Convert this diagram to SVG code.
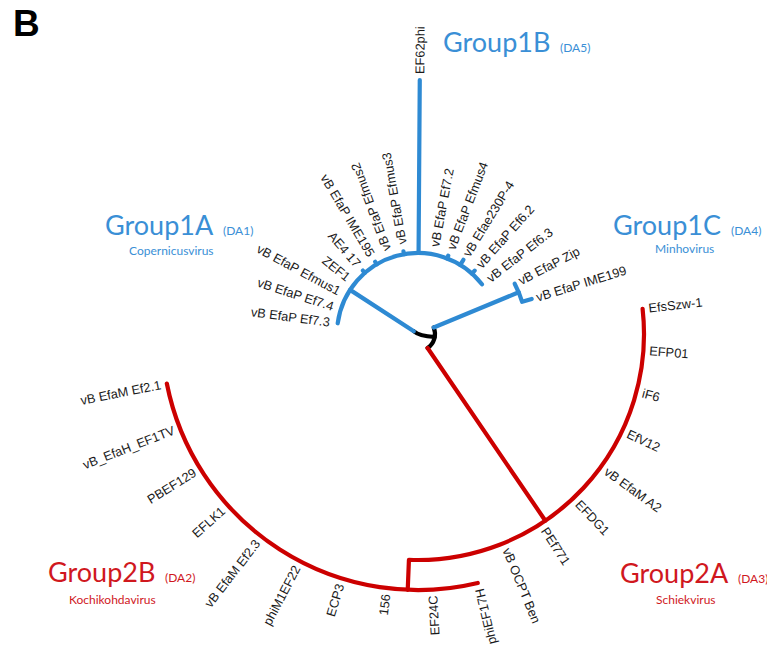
<svg xmlns="http://www.w3.org/2000/svg" width="767" height="649" viewBox="0 0 767 649">
  <style>
    .br { fill: none; stroke-width: 4.2; stroke-linecap: round; stroke-linejoin: round; }
    .blue { stroke: #2e8ad3; }
    .red { stroke: #cc0000; }
    .blk { stroke: #000000; }
    .leaf { font-family: "Liberation Sans", Arial, sans-serif; font-size: 12.8px; fill: #1a1a1a; }
    .flip { text-anchor: end; }
    .grp { font-family: Lato, "Open Sans", sans-serif; font-size: 27px; }
    .da { font-family: Lato, "Open Sans", sans-serif; font-size: 12px; }
    .genus { font-family: Lato, "Open Sans", sans-serif; font-size: 12px; }
    .cb { fill: #3a8fd6; }
    .cr { fill: #d0181e; }
  </style>
  <rect width="767" height="649" fill="#ffffff"/>

  <text x="13" y="36" font-family="'Liberation Sans', Arial, sans-serif" font-size="37" font-weight="bold" fill="#000">B</text>

  <!-- tree branches, circular layout centred at (418,334) -->
  <g id="connectors">
    <!-- root -->
    <path class="br blk" d="M413.8,331.3 Q419,336 434.7,337"/>
    <path class="br blk" d="M433.71,327.49 A17,17 0 0 1 427.58,348.04"/>
    <!-- Group1A / 1B -->
    <path class="br blue" d="M413.8,331.3 L350.07,289.88"/>
    <path class="br blue" d="M337.71,323.29 A81,81 0 0 1 481.97,284.32"/>
    <path class="br blue" d="M418.57,253 L419.77,80"/>
    <path class="br blue" d="M364.86,272.87 L362.89,270.6 M376.7,264.32 L375.17,261.74 M404,254.22 L403.48,251.26 M447.16,258.43 L448.24,255.63 M460.26,264.9 L463.39,259.78 M471.99,273.62 L474.66,270.63"/>
    <!-- Group1C -->
    <path class="br blue" d="M433.71,327.49 L518.7,292.29"/>
    <path class="br blue" d="M514.68,283.67 A109,109 0 0 1 522.15,301.86 L531.71,298.91"/>
    <!-- Group2 -->
    <path class="br red" d="M427.58,348.04 L545.36,520.7"/>
    <path class="br red" d="M642.59,308.81 A226,226 0 0 1 408.93,559.82 L407.73,589.79"/>
    <path class="br red" d="M477.76,582.93 A256,256 0 0 1 166.83,383.51"/>
  </g>

  <!-- Group1 leaves -->
  <g id="leaf-Ef7-3"><text class="leaf flip" dy="0.35em" transform="translate(418 334) rotate(187.6) translate(89 0) rotate(180)">vB EfaP Ef7.3</text></g>
  <g id="leaf-Ef7-4"><text class="leaf flip" dy="0.35em" transform="translate(418 334) rotate(197.95) translate(89 0) rotate(180)">vB EfaP Ef7.4</text></g>
  <g id="leaf-Efmus1"><text class="leaf flip" dy="0.35em" transform="translate(418 334) rotate(208.3) translate(89 0) rotate(180)">vB EfaP Efmus1</text></g>
  <g id="leaf-ZEF1"><text class="leaf flip" dy="0.35em" transform="translate(418 334) rotate(218.65) translate(89 0) rotate(180)">ZEF1</text></g>
  <g id="leaf-AE4-17"><text class="leaf flip" dy="0.35em" transform="translate(418 334) rotate(229) translate(91 0) rotate(180)">AE4 17</text></g>
  <g id="leaf-IME195"><text class="leaf flip" dy="0.35em" transform="translate(418 334) rotate(239.35) translate(91 0) rotate(180)">vB EfaP IME195</text></g>
  <g id="leaf-Efmus2"><text class="leaf" dy="0.35em" transform="translate(418 334) rotate(249.7) translate(89 0)">vB EfaP Efmus2</text></g>
  <g id="leaf-Efmus3"><text class="leaf" dy="0.35em" transform="translate(418 334) rotate(260.05) translate(91 0)">vB EfaP Efmus3</text></g>
  <g id="leaf-EF62phi"><text class="leaf" dy="0.35em" transform="translate(418 334) rotate(270.4) translate(260 0)">EF62phi</text></g>
  <g id="leaf-Ef7-2"><text class="leaf" dy="0.35em" transform="translate(418 334) rotate(280.75) translate(89 0)">vB EfaP Ef7.2</text></g>
  <g id="leaf-Efmus4"><text class="leaf" dy="0.35em" transform="translate(418 334) rotate(291.1) translate(91 0)">vB EfaP Efmus4</text></g>
  <g id="leaf-Efae230P-4"><text class="leaf" dy="0.35em" transform="translate(418 334) rotate(301.45) translate(92 0)">vB Efae230P-4</text></g>
  <g id="leaf-Ef6-2"><text class="leaf" dy="0.35em" transform="translate(418 334) rotate(311.8) translate(91 0)">vB EfaP Ef6.2</text></g>
  <g id="leaf-Ef6-3"><text class="leaf" dy="0.35em" transform="translate(418 334) rotate(322.15) translate(89 0)">vB EfaP Ef6.3</text></g>
  <g id="leaf-Zip"><text class="leaf" dy="0.35em" transform="translate(418 334) rotate(332.5) translate(114 0)">vB EfaP Zip</text></g>
  <g id="leaf-IME199"><text class="leaf" dy="0.35em" transform="translate(418 334) rotate(342.85) translate(124 0)">vB EfaP IME199</text></g>

  <!-- Group2A leaves -->
  <g id="leaf-EfsSzw-1"><text class="leaf" dy="0.35em" transform="translate(418 334) rotate(-6.4) translate(232 0)">EfsSzw-1</text></g>
  <g id="leaf-EFP01"><text class="leaf" dy="0.35em" transform="translate(418 334) rotate(4.17) translate(232 0)">EFP01</text></g>
  <g id="leaf-iF6"><text class="leaf" dy="0.35em" transform="translate(418 334) rotate(14.74) translate(232 0)">iF6</text></g>
  <g id="leaf-EfV12"><text class="leaf" dy="0.35em" transform="translate(418 334) rotate(25.31) translate(232 0)">EfV12</text></g>
  <g id="leaf-EfaM-A2"><text class="leaf" dy="0.35em" transform="translate(418 334) rotate(35.89) translate(232 0)">vB EfaM A2</text></g>
  <g id="leaf-EFDG1"><text class="leaf" dy="0.35em" transform="translate(418 334) rotate(46.46) translate(232 0)">EFDG1</text></g>
  <g id="leaf-PEf771"><text class="leaf" dy="0.35em" transform="translate(418 334) rotate(57.03) translate(232 0)">PEf771</text></g>
  <g id="leaf-OCPT-Ben"><text class="leaf" dy="0.35em" transform="translate(418 334) rotate(67.6) translate(232 0)">vB OCPT Ben</text></g>

  <!-- Group2B leaves -->
  <g id="leaf-phiEF17H"><text class="leaf flip" dy="0.35em" transform="translate(418 334) rotate(76.5) translate(262 0) rotate(180)">phiEF17H</text></g>
  <g id="leaf-EF24C"><text class="leaf flip" dy="0.35em" transform="translate(418 334) rotate(86.76) translate(262 0) rotate(180)">EF24C</text></g>
  <g id="leaf-156"><text class="leaf flip" dy="0.35em" transform="translate(418 334) rotate(97.02) translate(262 0) rotate(180)">156</text></g>
  <g id="leaf-ECP3"><text class="leaf flip" dy="0.35em" transform="translate(418 334) rotate(107.28) translate(262 0) rotate(180)">ECP3</text></g>
  <g id="leaf-phiM1EF22"><text class="leaf flip" dy="0.35em" transform="translate(418 334) rotate(117.54) translate(262 0) rotate(180)">phiM1EF22</text></g>
  <g id="leaf-EfaM-Ef2-3"><text class="leaf flip" dy="0.35em" transform="translate(418 334) rotate(127.8) translate(262 0) rotate(180)">vB EfaM Ef2.3</text></g>
  <g id="leaf-EFLK1"><text class="leaf flip" dy="0.35em" transform="translate(418 334) rotate(138.07) translate(262 0) rotate(180)">EFLK1</text></g>
  <g id="leaf-PBEF129"><text class="leaf flip" dy="0.35em" transform="translate(418 334) rotate(148.33) translate(262 0) rotate(180)">PBEF129</text></g>
  <g id="leaf-EF1TV"><text class="leaf flip" dy="0.35em" transform="translate(418 334) rotate(158.59) translate(262 0) rotate(180)">vB_EfaH_EF1TV</text></g>
  <g id="leaf-EfaM-Ef2-1"><text class="leaf flip" dy="0.35em" transform="translate(418 334) rotate(168.85) translate(262 0) rotate(180)">vB EfaM Ef2.1</text></g>

  <!-- clade labels -->
  <g id="group1A">
    <text class="grp cb" x="105" y="235">Group1A</text>
    <text class="da cb" x="223" y="235">(DA1)</text>
    <text class="genus cb" x="129" y="255">Copernicusvirus</text>
  </g>
  <g id="group1B">
    <text class="grp cb" x="443" y="52">Group1B</text>
    <text class="da cb" x="560" y="52">(DA5)</text>
  </g>
  <g id="group1C">
    <text class="grp cb" x="613" y="235">Group1C</text>
    <text class="da cb" x="731" y="235">(DA4)</text>
    <text class="genus cb" x="655" y="253">Minhovirus</text>
  </g>
  <g id="group2A">
    <text class="grp cr" x="620" y="583">Group2A</text>
    <text class="da cr" x="738" y="583">(DA3)</text>
    <text class="genus cr" x="656" y="604">Schiekvirus</text>
  </g>
  <g id="group2B">
    <text class="grp cr" x="48" y="582">Group2B</text>
    <text class="da cr" x="165" y="582">(DA2)</text>
    <text class="genus cr" x="69" y="604">Kochikohdavirus</text>
  </g>
</svg>
